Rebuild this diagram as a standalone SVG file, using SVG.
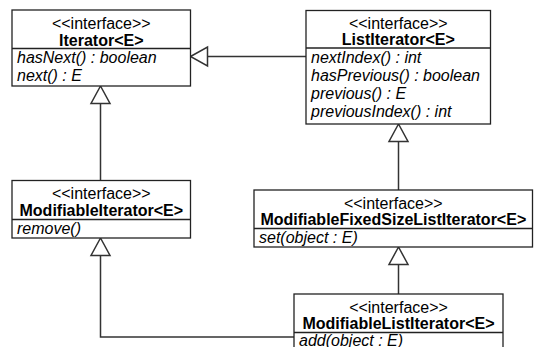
<svg xmlns="http://www.w3.org/2000/svg" width="536" height="347" viewBox="0 0 536 347">
<style>
.box{fill:#fff;stroke:#222;stroke-width:1.3}
.div{stroke:#222;stroke-width:1.3}
text{font-family:"Liberation Sans",Arial,sans-serif;font-size:16px;fill:#000}
.st{text-anchor:middle}
.nm{text-anchor:middle;font-weight:bold}
.op{font-style:italic}
.ln{fill:none;stroke:#333;stroke-width:1.5}
.tri{fill:#fff;stroke:#333;stroke-width:1.5;stroke-linejoin:miter}
</style>
<rect width="536" height="347" fill="#fff"/>
<g id="connectors">
<line class="ln" x1="100.5" y1="180.5" x2="100.5" y2="103.5"/>
<polygon class="tri" points="100.5,86 91,103.5 110,103.5"/>
<line class="ln" x1="306" y1="56.5" x2="207.5" y2="56.5"/>
<polygon class="tri" points="190.5,56.5 207.5,47 207.5,66"/>
<line class="ln" x1="398.5" y1="190" x2="398.5" y2="141.5"/>
<polygon class="tri" points="398.5,124 389,141.5 408,141.5"/>
<line class="ln" x1="398.5" y1="294" x2="398.5" y2="264.5"/>
<polygon class="tri" points="398.5,247 389,264.5 408,264.5"/>
<polyline class="ln" points="294,337 100.5,337 100.5,255.5"/>
<polygon class="tri" points="100.5,238 91,255.5 110,255.5"/>
</g>
<g id="Iterator">
<rect class="box" x="12" y="10" width="178.5" height="76"/>
<line class="div" x1="12" y1="48.5" x2="190.5" y2="48.5"/>
<text class="st" x="101.3" y="29">&lt;&lt;interface&gt;&gt;</text>
<text class="nm" x="101.3" y="45.5">Iterator&lt;E&gt;</text>
<text class="op" x="17" y="63">hasNext() : boolean</text>
<text class="op" x="17" y="80.5">next() : E</text>
</g>
<g id="ListIterator">
<rect class="box" x="306" y="10.5" width="184.5" height="113.5"/>
<line class="div" x1="306" y1="48" x2="490.5" y2="48"/>
<text class="st" x="398.3" y="29">&lt;&lt;interface&gt;&gt;</text>
<text class="nm" x="398.3" y="45">ListIterator&lt;E&gt;</text>
<text class="op" x="311" y="62.5">nextIndex() : int</text>
<text class="op" x="311" y="80.5">hasPrevious() : boolean</text>
<text class="op" x="311" y="98.5">previous() : E</text>
<text class="op" x="311" y="116.5">previousIndex() : int</text>
</g>
<g id="ModifiableIterator">
<rect class="box" x="12" y="180.5" width="178.5" height="57.5"/>
<line class="div" x1="12" y1="219.5" x2="190.5" y2="219.5"/>
<text class="st" x="101.3" y="199">&lt;&lt;interface&gt;&gt;</text>
<text class="nm" x="101.3" y="215.5">ModifiableIterator&lt;E&gt;</text>
<text class="op" x="17" y="233.5">remove()</text>
</g>
<g id="ModifiableFixedSizeListIterator">
<rect class="box" x="254" y="190" width="278.5" height="57"/>
<line class="div" x1="254" y1="228.5" x2="532.5" y2="228.5"/>
<text class="st" x="393.3" y="208.5">&lt;&lt;interface&gt;&gt;</text>
<text class="nm" x="393.3" y="225">ModifiableFixedSizeListIterator&lt;E&gt;</text>
<text class="op" x="259" y="242.5">set(object : E)</text>
</g>
<g id="ModifiableListIterator">
<rect class="box" x="294" y="294" width="209" height="70"/>
<line class="div" x1="294" y1="332.5" x2="503" y2="332.5"/>
<text class="st" x="398.5" y="312.5">&lt;&lt;interface&gt;&gt;</text>
<text class="nm" x="398.5" y="329">ModifiableListIterator&lt;E&gt;</text>
<text class="op" x="299" y="346">add(object : E)</text>
</g>
</svg>
